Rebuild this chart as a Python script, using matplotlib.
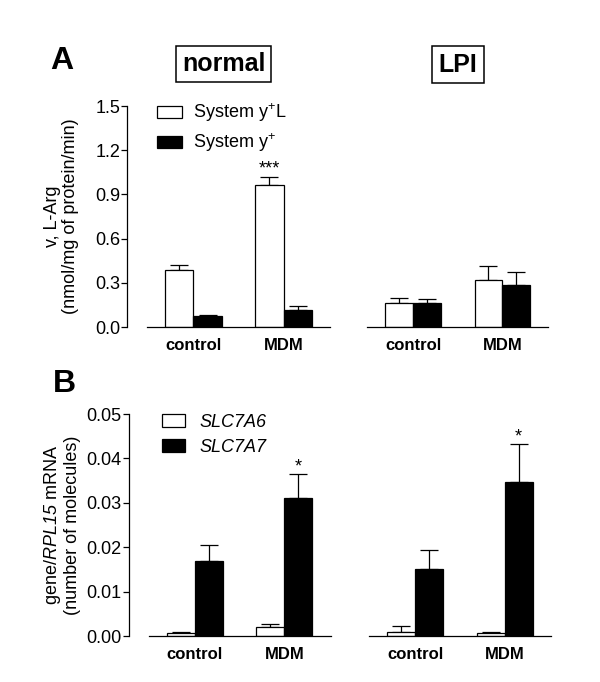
import numpy as np
import matplotlib
matplotlib.use('Agg')
import matplotlib.pyplot as plt
from matplotlib.patches import Patch

plt.rcParams['font.family'] = ['Liberation Sans', 'DejaVu Sans']
plt.rcParams['mathtext.fontset'] = 'custom'
plt.rcParams['mathtext.rm'] = 'Liberation Sans'
plt.rcParams['mathtext.it'] = 'Liberation Sans:italic'
plt.rcParams['mathtext.sf'] = 'Liberation Sans:italic'

groups = ['control', 'MDM']

# panel A: L-Arg uptake (nmol/mg of protein/min)
a_normal_yl = [0.385, 0.966]
a_normal_yl_err = [0.035, 0.055]
a_normal_y = [0.072, 0.118]
a_normal_y_err = [0.012, 0.027]
a_lpi_yl = [0.160, 0.317]
a_lpi_yl_err = [0.034, 0.095]
a_lpi_y = [0.163, 0.287]
a_lpi_y_err = [0.029, 0.086]

# panel B: gene/RPL15 mRNA
b_normal_a6 = [0.0006, 0.0021]
b_normal_a6_err = [0.0003, 0.0005]
b_normal_a7 = [0.0170, 0.0310]
b_normal_a7_err = [0.0035, 0.0054]
b_lpi_a6 = [0.0010, 0.0006]
b_lpi_a6_err = [0.0012, 0.0004]
b_lpi_a7 = [0.0150, 0.0348]
b_lpi_a7_err = [0.0044, 0.0084]

centers = np.array([1.65, 4.85])
w = 1.0
lw = 0.9  # points

fig = plt.figure(figsize=(6.0, 6.82), dpi=100)

def panel(rect, white, white_err, black, black_err, ylim, show_y):
    ax = fig.add_axes(rect)
    ax.bar(centers - w / 2, white, w, color='white', edgecolor='black', linewidth=lw, zorder=2)
    ax.bar(centers + w / 2, black, w, color='black', edgecolor='black', linewidth=lw, zorder=2)
    ax.errorbar(centers - w / 2, white, yerr=[np.zeros(2), white_err], fmt='none',
                ecolor='black', elinewidth=lw, capsize=6.5, capthick=lw, zorder=1)
    ax.errorbar(centers + w / 2, black, yerr=[np.zeros(2), black_err], fmt='none',
                ecolor='black', elinewidth=lw, capsize=6.5, capthick=lw, zorder=1)
    ax.set_xlim(0, 6.5)
    ax.set_ylim(*ylim)
    ax.set_xticks(centers)
    ax.set_xticklabels(groups, fontsize=12, fontweight='bold')
    ax.tick_params(axis='x', length=0, pad=8)
    for s in ['top', 'right']:
        ax.spines[s].set_visible(False)
    ax.spines['bottom'].set_linewidth(lw)
    if show_y:
        ax.spines['left'].set_position(('outward', 14.4))
        ax.spines['left'].set_linewidth(lw)
        ax.tick_params(axis='y', length=4, width=lw, labelsize=13, pad=1)
    else:
        ax.spines['left'].set_visible(False)
        ax.set_yticks([])
    return ax

axA1 = panel([0.245, 0.5205, 0.305, 0.324], a_normal_yl, a_normal_yl_err,
             a_normal_y, a_normal_y_err, (0, 1.5), True)
axA1.set_yticks([0.0, 0.3, 0.6, 0.9, 1.2, 1.5])
axA1.set_yticklabels(['0.0', '0.3', '0.6', '0.9', '1.2', '1.5'])
axA2 = panel([0.612, 0.5205, 0.302, 0.324], a_lpi_yl, a_lpi_yl_err,
             a_lpi_y, a_lpi_y_err, (0, 1.5), False)

axB1 = panel([0.248, 0.0674, 0.303, 0.3255], b_normal_a6, b_normal_a6_err,
             b_normal_a7, b_normal_a7_err, (0, 0.05), True)
axB1.set_yticks([0.0, 0.01, 0.02, 0.03, 0.04, 0.05])
axB1.set_yticklabels(['0.00', '0.01', '0.02', '0.03', '0.04', '0.05'])
axB2 = panel([0.615, 0.0674, 0.303, 0.3255], b_lpi_a6, b_lpi_a6_err,
             b_lpi_a7, b_lpi_a7_err, (0, 0.05), False)

# significance stars
axA1.text(centers[1] - w / 2, a_normal_yl[1] + a_normal_yl_err[1] - 0.005, '***',
          ha='center', va='bottom', fontsize=13)
axB1.text(centers[1] + w / 2, b_normal_a7[1] + b_normal_a7_err[1] - 0.0002, '*',
          ha='center', va='bottom', fontsize=13)
axB2.text(centers[1] + w / 2, b_lpi_a7[1] + b_lpi_a7_err[1] - 0.0002, '*',
          ha='center', va='bottom', fontsize=13)

# legends
hA = [Patch(facecolor='white', edgecolor='black', linewidth=lw),
      Patch(facecolor='black', edgecolor='black', linewidth=lw)]
axA1.legend(hA, ['System y$^{+}$L', 'System y$^{+}$'], loc='upper left',
            bbox_to_anchor=(0.055, 1.02), frameon=False, fontsize=13,
            handlelength=1.4, handleheight=0.65, handletextpad=0.6,
            labelspacing=0.4, borderpad=0, borderaxespad=0)
axB1.legend(hA, ['SLC7A6', 'SLC7A7'], loc='upper left',
            bbox_to_anchor=(0.07, 1.0), frameon=False,
            handlelength=1.3, handleheight=0.75, handletextpad=0.8,
            labelspacing=0.45, borderpad=0, borderaxespad=0,
            prop={'style': 'italic', 'size': 13})

# y labels
fig.text(0.102, 1 - 216.5 / 682, 'v, L-Arg\n(nmol/mg of protein/min)', rotation=90,
         ha='center', va='center', fontsize=13, linespacing=1.1)
fig.text(0.102, 1 - 525 / 682, 'gene/$\\mathsf{RPL15}$ mRNA\n(number of molecules)',
         rotation=90, ha='center', va='center', fontsize=13, linespacing=1.1)

# panel letters and condition boxes
fig.text(61.5 / 600, 1 - 61 / 682, 'A', fontsize=23, fontweight='bold', ha='center', va='center')
fig.text(64 / 600, 1 - 384 / 682, 'B', fontsize=23, fontweight='bold', ha='center', va='center')
box = dict(boxstyle='square,pad=0.25', facecolor='white', edgecolor='black', linewidth=1.1)
fig.text(223.5 / 600, 1 - 64 / 682, 'normal', fontsize=18, fontweight='bold',
         ha='center', va='center', bbox=box)
fig.text(458 / 600, 1 - 64.5 / 682, 'LPI', fontsize=18, fontweight='bold',
         ha='center', va='center', bbox=box)

fig.savefig('out.png', dpi=100)
